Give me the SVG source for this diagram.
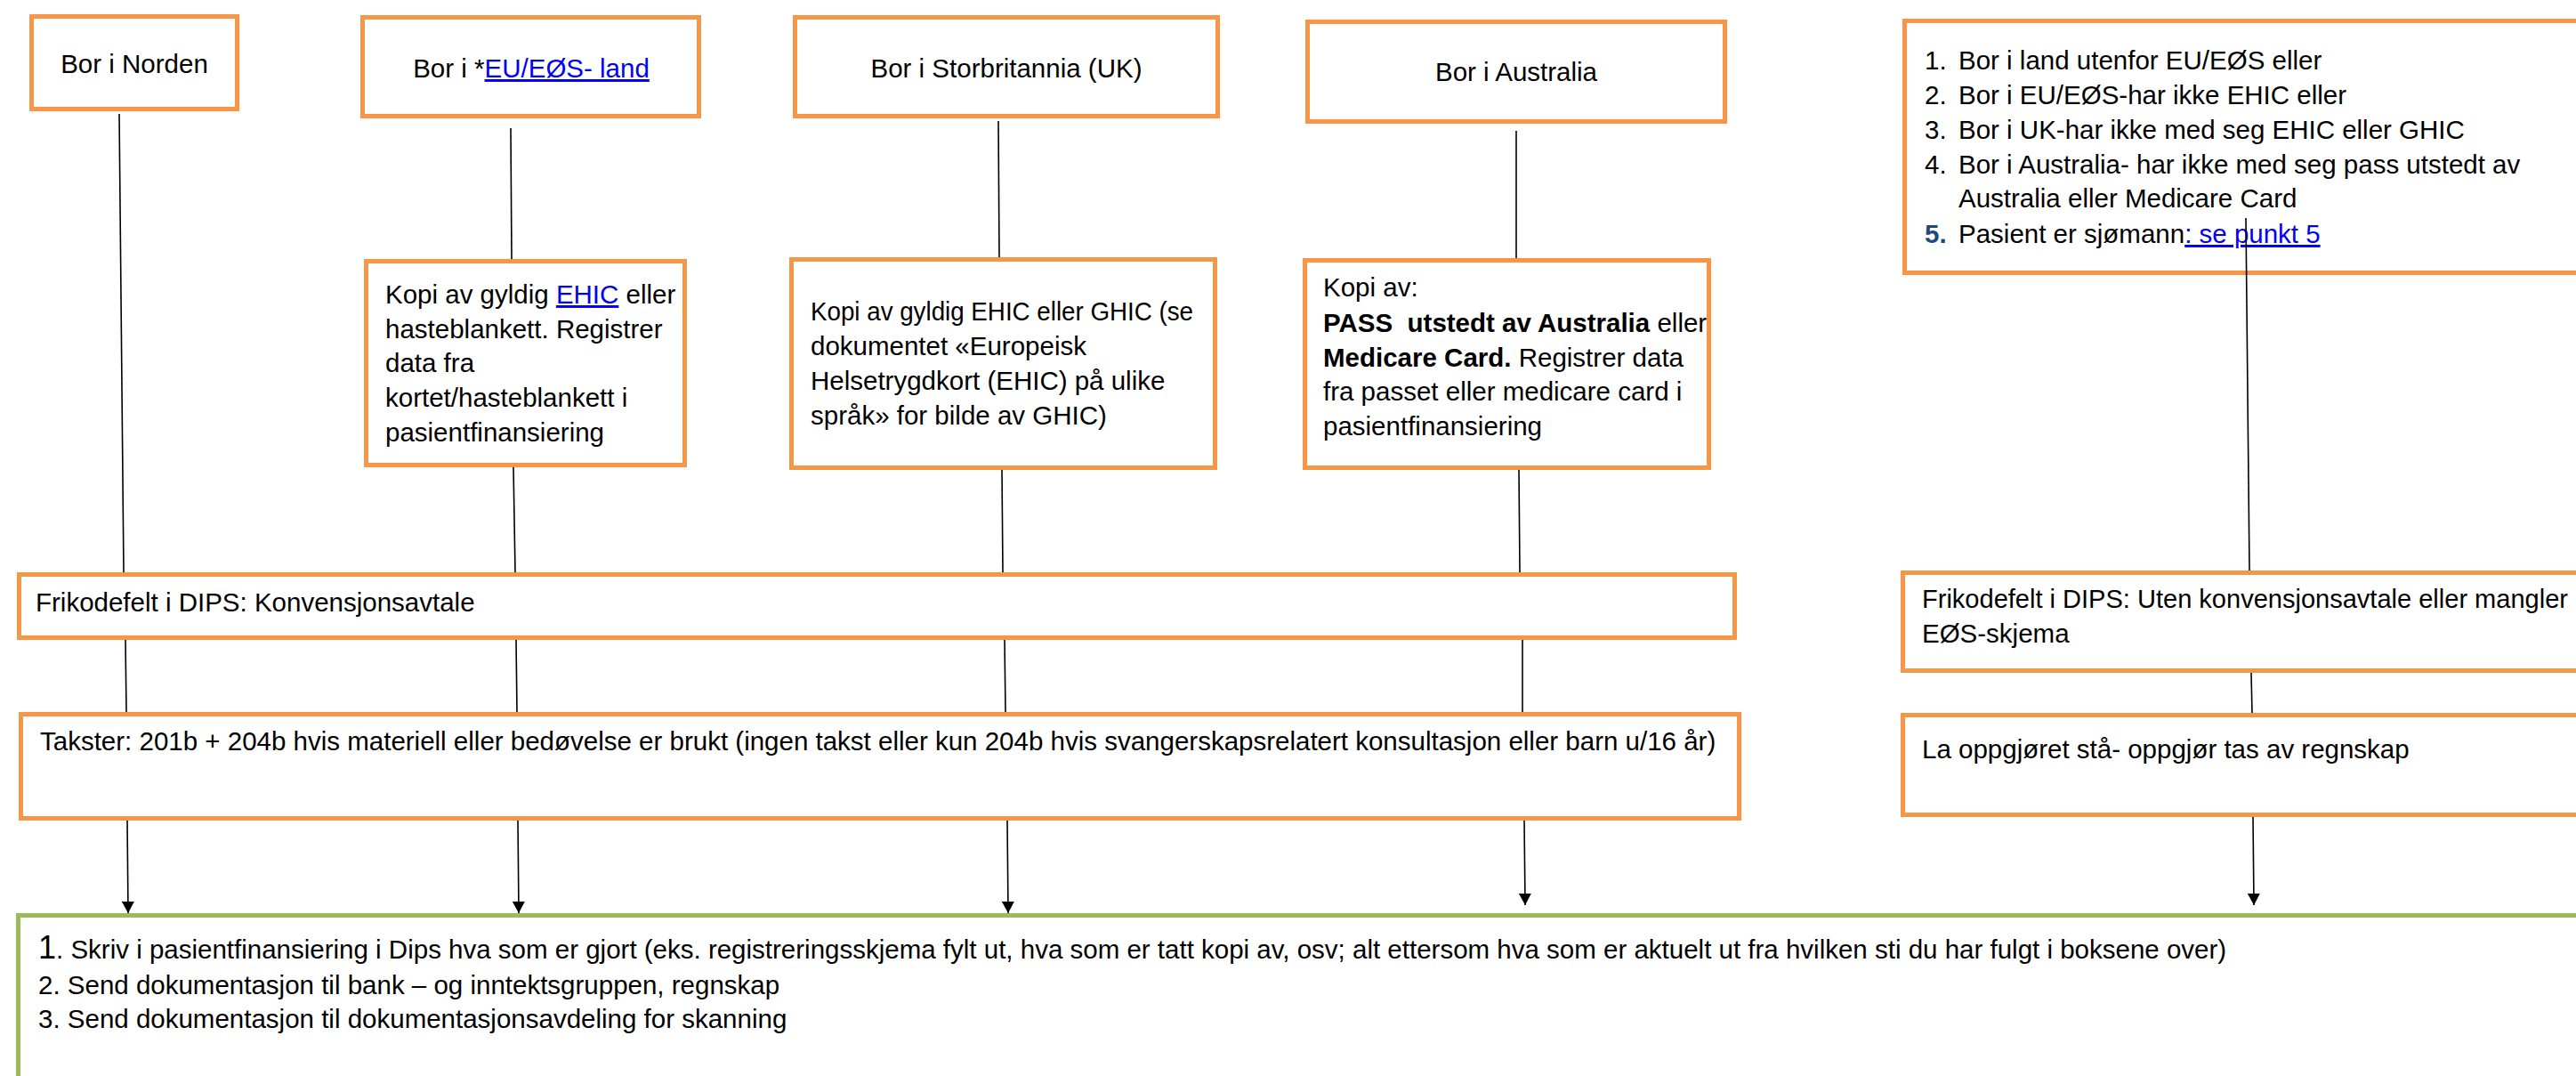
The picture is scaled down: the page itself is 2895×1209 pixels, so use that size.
<svg xmlns="http://www.w3.org/2000/svg" width="2895" height="1209" viewBox="0 0 2895 1209">
<style>
.box{fill:#ffffff;stroke:#F79646;stroke-width:5}
.gbox{fill:#ffffff;stroke:#9BBB59;stroke-width:5}
.t{font-family:"Liberation Sans",Arial,sans-serif;font-size:29.5px;fill:#000000}
.c{text-anchor:middle}
.lnk{fill:#0000FF;text-decoration:underline}
.b{font-weight:bold}
.con{stroke:#000000;stroke-width:1.6;fill:none}
.arr{marker-end:url(#ah)}
</style>
<defs>
<marker id="ah" markerUnits="userSpaceOnUse" markerWidth="14" markerHeight="14" refX="13" refY="7" orient="auto">
<path d="M0,0 L13,7 L0,14 z" fill="#000000"/>
</marker>
</defs>
<rect width="2895" height="1209" fill="#ffffff"/>
<g id="connectors">
<line class="con" x1="134" y1="128" x2="139" y2="643"/>
<line class="con" x1="574" y1="144" x2="575" y2="291"/>
<line class="con" x1="1122" y1="136" x2="1123" y2="289"/>
<line class="con" x1="1704" y1="147" x2="1704" y2="290"/>
<line class="con" x1="577" y1="525" x2="579" y2="643"/>
<line class="con" x1="1126" y1="528" x2="1127" y2="643"/>
<line class="con" x1="1707" y1="528" x2="1708" y2="643"/>
<line class="con" x1="141" y1="719" x2="142" y2="800"/>
<line class="con" x1="580" y1="719" x2="581" y2="800"/>
<line class="con" x1="1129" y1="719" x2="1130" y2="800"/>
<line class="con" x1="1711" y1="719" x2="1711" y2="800"/>
<line class="con arr" x1="143" y1="922" x2="144" y2="1026"/>
<line class="con arr" x1="582" y1="922" x2="583" y2="1026"/>
<line class="con arr" x1="1132" y1="922" x2="1133" y2="1026"/>
<line class="con arr" x1="1713" y1="922" x2="1714" y2="1017"/>
<line class="con" x1="2530" y1="756" x2="2531" y2="801"/>
<line class="con arr" x1="2532" y1="918" x2="2533" y2="1017"/>
</g>
<g id="n-norden">
<rect class="box" x="35.5" y="18.5" width="231" height="104"/>
<text class="t c" x="151" y="82">Bor i Norden</text>
</g>
<g id="n-eu">
<rect class="box" x="407.5" y="19.5" width="378" height="111"/>
<text class="t c" x="597" y="87">Bor i *<tspan class="lnk">EU/EØS- land</tspan></text>
</g>
<g id="n-uk">
<rect class="box" x="893.5" y="19.5" width="475" height="111"/>
<text class="t c" x="1131" y="87">Bor i Storbritannia (UK)</text>
</g>
<g id="n-aus">
<rect class="box" x="1469.5" y="24.5" width="469" height="112"/>
<text class="t c" x="1704" y="91">Bor i Australia</text>
</g>
<g id="n-list">
<rect class="box" x="2140.5" y="23.5" width="800" height="283"/>
<text class="t" x="2163" y="78">1.</text><text class="t" x="2201" y="78">Bor i land utenfor EU/EØS eller</text>
<text class="t" x="2163" y="117">2.</text><text class="t" x="2201" y="117">Bor i EU/EØS-har ikke EHIC eller</text>
<text class="t" x="2163" y="156">3.</text><text class="t" x="2201" y="156">Bor i UK-har ikke med seg EHIC eller GHIC</text>
<text class="t" x="2163" y="195">4.</text><text class="t" x="2201" y="195">Bor i Australia- har ikke med seg pass utstedt av</text>
<text class="t" x="2201" y="233">Australia eller Medicare Card</text>
<text class="t b" x="2163" y="273" style="fill:#1F497D">5.</text><text class="t" x="2201" y="273">Pasient er sjømann<tspan class="lnk">: se punkt 5</tspan></text>
</g>
<line class="con" x1="2524" y1="245" x2="2528" y2="641"/>
<g id="n-ehic">
<rect class="box" x="411.5" y="293.5" width="358" height="229"/>
<text class="t" x="433" y="341">Kopi av gyldig <tspan class="lnk">EHIC</tspan> eller</text>
<text class="t" x="433" y="380">hasteblankett. Registrer</text>
<text class="t" x="433" y="418">data fra</text>
<text class="t" x="433" y="457">kortet/hasteblankett i</text>
<text class="t" x="433" y="496">pasientfinansiering</text>
</g>
<g id="n-ghic">
<rect class="box" x="889.5" y="291.5" width="476" height="234"/>
<text class="t" x="911" y="360" textLength="430" lengthAdjust="spacingAndGlyphs">Kopi av gyldig EHIC eller GHIC (se</text>
<text class="t" x="911" y="399">dokumentet «Europeisk</text>
<text class="t" x="911" y="438">Helsetrygdkort (EHIC) på ulike</text>
<text class="t" x="911" y="477">språk» for bilde av GHIC)</text>
</g>
<g id="n-auskopi">
<rect class="box" x="1466.5" y="292.5" width="454" height="233"/>
<text class="t" x="1487" y="333">Kopi av:</text>
<text class="t" x="1487" y="373" xml:space="preserve"><tspan class="b">PASS  utstedt av Australia</tspan> eller</text>
<text class="t" x="1487" y="412"><tspan class="b">Medicare Card.</tspan> Registrer data</text>
<text class="t" x="1487" y="450">fra passet eller medicare card i</text>
<text class="t" x="1487" y="489">pasientfinansiering</text>
</g>
<g id="n-friko">
<rect class="box" x="21.5" y="645.5" width="1928" height="71"/>
<text class="t" x="40" y="687">Frikodefelt i DIPS: Konvensjonsavtale</text>
</g>
<g id="n-takster">
<rect class="box" x="23.5" y="802.5" width="1931" height="117"/>
<text class="t" x="45" y="843">Takster: 201b + 204b hvis materiell eller bedøvelse er brukt (ingen takst eller kun 204b hvis svangerskapsrelatert konsultasjon eller barn u/16 år)</text>
</g>
<g id="n-friko2">
<rect class="box" x="2138.5" y="643.5" width="800" height="110"/>
<text class="t" x="2160" y="683" textLength="726" lengthAdjust="spacingAndGlyphs">Frikodefelt i DIPS: Uten konvensjonsavtale eller mangler</text>
<text class="t" x="2160" y="722">EØS-skjema</text>
</g>
<g id="n-oppgjor">
<rect class="box" x="2138.5" y="803.5" width="800" height="112"/>
<text class="t" x="2160" y="852">La oppgjøret stå- oppgjør tas av regnskap</text>
</g>
<g id="n-green">
<rect class="gbox" x="20.5" y="1028.5" width="2900" height="300"/>
<text class="t" x="43" y="1077"><tspan style="font-size:36px">1</tspan>. Skriv i pasientfinansiering i Dips hva som er gjort (eks. registreringsskjema fylt ut, hva som er tatt kopi av, osv; alt ettersom hva som er aktuelt ut fra hvilken sti du har fulgt i boksene over)</text>
<text class="t" x="43" y="1117">2. Send dokumentasjon til bank – og inntektsgruppen, regnskap</text>
<text class="t" x="43" y="1155">3. Send dokumentasjon til dokumentasjonsavdeling for skanning</text>
</g>
</svg>
